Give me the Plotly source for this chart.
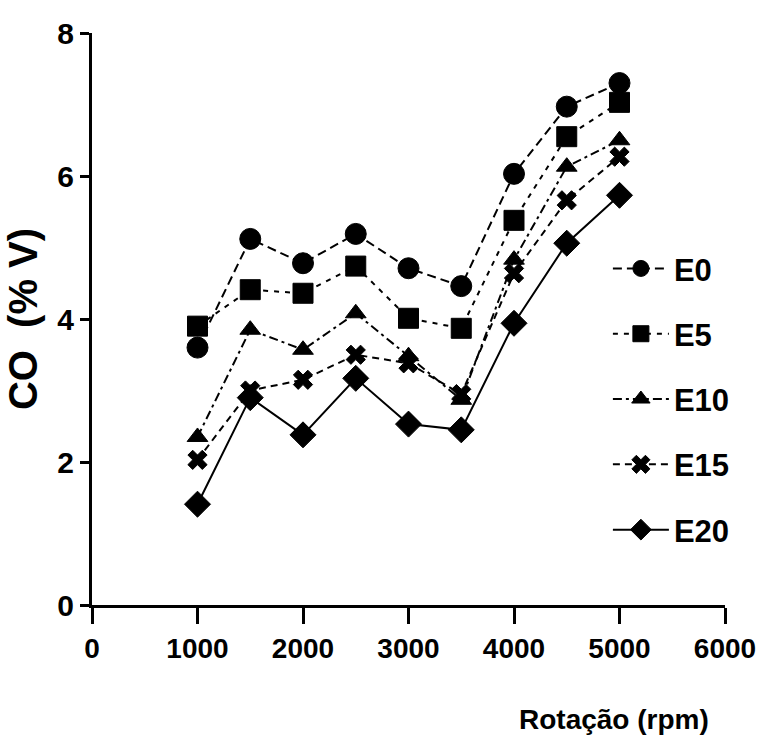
import plotly.graph_objects as go

rpm = [1000, 1500, 2000, 2500, 3000, 3500, 4000, 4500, 5000]
series_names = ["E0", "E5", "E10", "E15", "E20"]
e0 = [3.6, 5.12, 4.78, 5.19, 4.71, 4.46, 6.03, 6.97, 7.30]
e5 = [3.90, 4.41, 4.36, 4.74, 4.01, 3.87, 5.38, 6.55, 7.03]
e10 = [2.35, 3.85, 3.57, 4.08, 3.48, 2.87, 4.83, 6.13, 6.50]
e15 = [2.03, 3.00, 3.15, 3.50, 3.38, 2.95, 4.64, 5.66, 6.27]
e20 = [1.41, 2.90, 2.38, 3.17, 2.53, 2.45, 3.94, 5.06, 5.73]
values = [e0, e5, e10, e15, e20]

symbols = ["circle", "square", "triangle-up", "x", "diamond"]
sizes = [21, 20, 18, 17, 20]
dashes = ["9px,5px", "5px,6px", "9px,4px,3px,4px", "7px,5px", "solid"]

FONT = "Liberation Sans, Arial, sans-serif"

fig = go.Figure()
for i, (name, vals) in enumerate(zip(series_names, values)):
    fig.add_trace(go.Scatter(
        x=rpm, y=vals, name=name, mode="lines+markers",
        legendgroup=name,
        line=dict(color="black", width=2, dash=dashes[i]),
        marker=dict(symbol=symbols[i], size=sizes[i], color="black",
                    line=dict(color="black", width=1)),
    ))

fig.add_annotation(
    text="Rotação (rpm)", xref="paper", yref="paper",
    x=0.825, y=-0.201, xanchor="center", yanchor="middle", showarrow=False,
    font=dict(family=FONT, size=28, color="black", weight="bold"),
)

fig.update_layout(
    width=768, height=744,
    margin=dict(l=92, r=41, t=33, b=139),
    paper_bgcolor="white", plot_bgcolor="white",
    font=dict(family=FONT, color="black", size=28),
    showlegend=True,
    legend=dict(x=0.815, y=0.635, xanchor="left", yanchor="top",
                bgcolor="rgba(0,0,0,0)", tracegroupgap=22,
                font=dict(family=FONT, size=31, color="black", weight="bold"),
                itemwidth=56),
    xaxis=dict(range=[0, 6000], tickvals=[0, 1000, 2000, 3000, 4000, 5000, 6000],
               showgrid=False, zeroline=False, showline=True, linecolor="black",
               linewidth=3, ticks="outside", ticklen=16, tickwidth=3, tickcolor="black",
               tickfont=dict(family=FONT, size=28, weight="bold")),
    yaxis=dict(range=[0, 8], tickvals=[0, 2, 4, 6, 8],
               showgrid=False, zeroline=False, showline=True, linecolor="black",
               linewidth=3, ticks="outside", ticklen=9, tickwidth=3, tickcolor="black",
               tickfont=dict(family=FONT, size=30, weight="bold"),
               title=dict(text="CO  (% V)", font=dict(family=FONT, size=40, weight="bold"),
                          standoff=8)),
)

fig.write_html("out.html")
